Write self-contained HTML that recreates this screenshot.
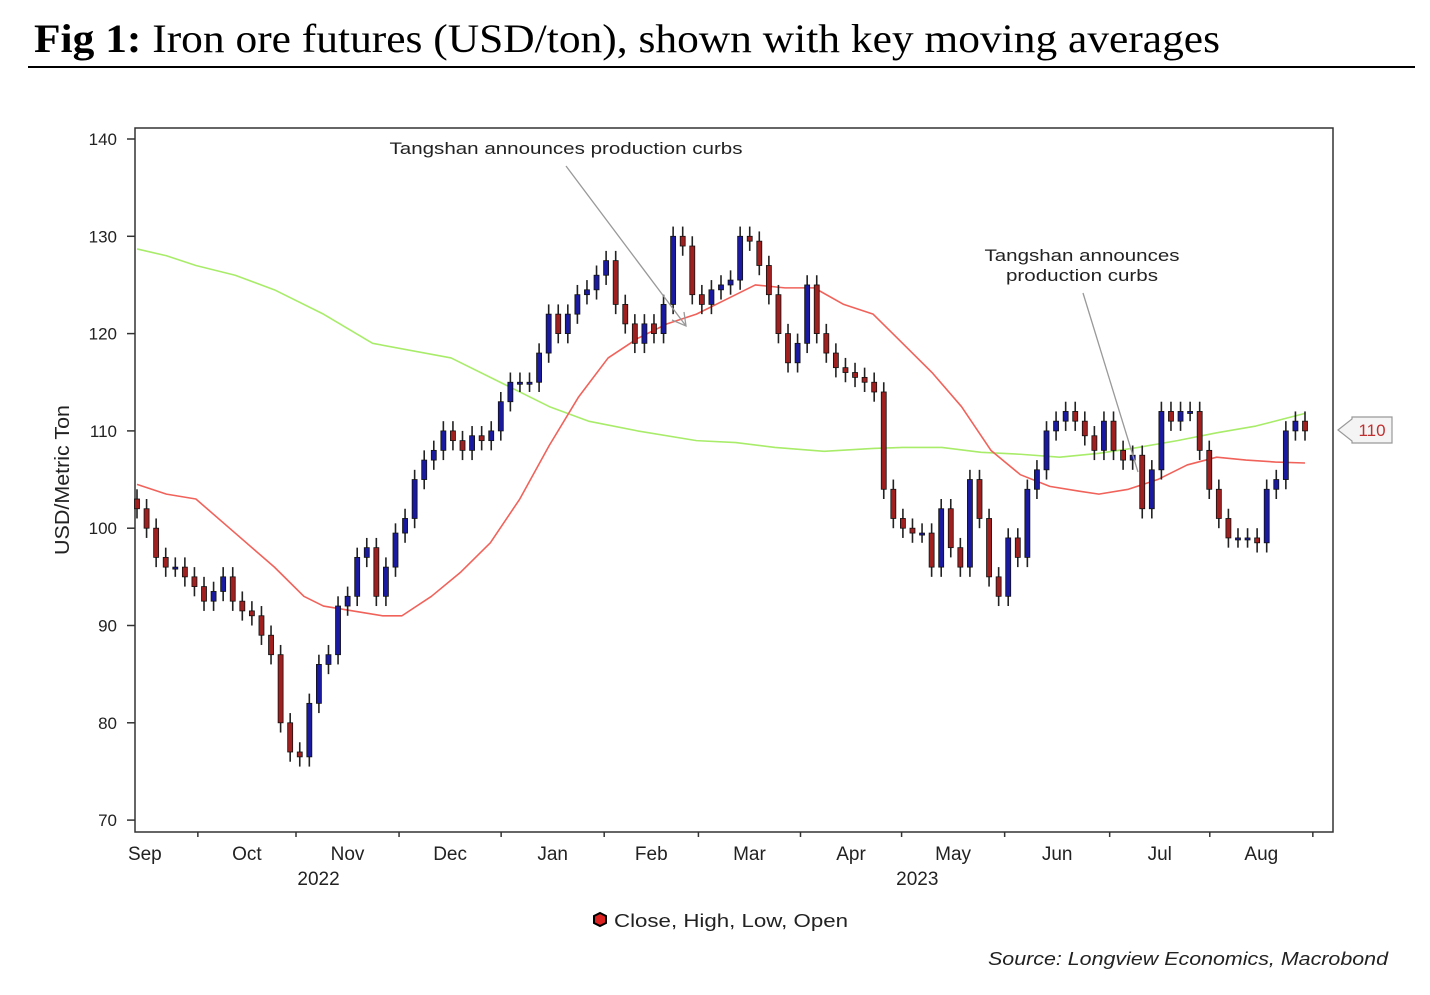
<!DOCTYPE html>
<html><head><meta charset="utf-8">
<style>
body{margin:0;background:#fff;width:1430px;height:990px;overflow:hidden;font-family:"Liberation Sans",sans-serif}
</style></head>
<body>
<svg id="c" width="1430" height="990" xmlns="http://www.w3.org/2000/svg">
<text x="34" y="52" font-family="Liberation Serif,serif" font-size="40" textLength="1186" lengthAdjust="spacingAndGlyphs"><tspan font-weight="bold">Fig 1:</tspan> Iron ore futures (USD/ton), shown with key moving averages</text>
<line x1="28" y1="67" x2="1415" y2="67" stroke="#000" stroke-width="2"/>
<rect x="135" y="128" width="1198" height="704" fill="none" stroke="#333" stroke-width="1.5"/>
<text transform="translate(69,480) rotate(-90)" text-anchor="middle" font-size="20" fill="#222" textLength="150" lengthAdjust="spacingAndGlyphs">USD/Metric Ton</text>
<g id="yax"></g>
<g id="xax"></g>
<g id="ma"></g>
<g id="cd"></g>
<text x="566" y="154" text-anchor="middle" font-size="17" fill="#222" textLength="353" lengthAdjust="spacingAndGlyphs">Tangshan announces production curbs</text>
<line x1="566" y1="166" x2="686" y2="326" stroke="#999" stroke-width="1.3"/>
<path d="M672 320 L686 326 L684 312" fill="none" stroke="#999" stroke-width="1.3"/>
<text text-anchor="middle" font-size="17" fill="#222"><tspan x="1082" y="261" textLength="195" lengthAdjust="spacingAndGlyphs">Tangshan announces</tspan><tspan x="1082" y="281" textLength="152" lengthAdjust="spacingAndGlyphs">production curbs</tspan></text>
<line x1="1083" y1="293" x2="1138" y2="472" stroke="#999" stroke-width="1.3"/>
<g>
<path d="M1338 430 L1352 419 L1352 417 L1392 417 L1392 443 L1352 443 L1352 441 Z" fill="#f4f4f4" stroke="#999" stroke-width="1.2"/>
<text x="1372" y="436" text-anchor="middle" font-size="17" fill="#c03030">110</text>
</g>
<g>
<path d="M594 916 L600 913 L606 916 L606 923 L600 926 L594 923 Z" fill="#d22" stroke="#000" stroke-width="2"/>
<text x="614" y="927" font-size="18" fill="#222" textLength="234" lengthAdjust="spacingAndGlyphs">Close, High, Low, Open</text>
</g>
<text x="1388" y="965" text-anchor="end" font-size="18" font-style="italic" fill="#222" textLength="400" lengthAdjust="spacingAndGlyphs">Source: Longview Economics, Macrobond</text>
</svg>
<script>
const closes=[102,100,97,96,96,95,94,92.5,93.5,95,92.5,91.5,91,89,87,80,77,76.5,82,86,87,92,93,97,98,93,96,99.5,101,105,107,108,110,109,108,109.5,109,110,113,115,115,115,118,122,120,122,124,124.5,126,127.5,123,121,119,121,120,123,130,129,124,123,124.5,125,125.5,130,129.5,127,124,120,117,119,125,120,118,116.5,116,115.5,115,114,104,101,100,99.5,99.5,96,102,98,96,105,101,95,93,99,97,104,106,110,111,112,111,109.5,108,111,108,107,107.5,102,106,112,111,112,112,108,104,101,99,99,99,98.5,104,105,110,111,110];
const firstOpen=103;
const redDays=[0,3,6,10,14,17,19,22,25,27,30,33,36,39,42,45,48,51,54,57,60,63,66,69,72,75,78,81,84,87,90,93,96,98,101,104,107,110,113,116,119];
const redVals=[104.5,103.5,103,99.5,96,93,92,91.5,91,91,93,95.5,98.5,103,108.5,113.5,117.5,119.5,121,122,123.5,125,124.7,124.7,123,122,119,116,112.5,108,105.5,104.3,103.8,103.5,104,105,106.5,107.3,107,106.8,106.7];
const greenDays=[0,3,6,10,14,19,24,32,37,42,46,51,57,61,65,70,75,78,82,86,90,94,98,102,106,110,114,119];
const greenVals=[128.7,128,127,126,124.5,122,119,117.5,115,112.5,111,110,109,108.8,108.3,107.9,108.2,108.3,108.3,107.8,107.6,107.3,107.7,108.3,109,109.8,110.5,111.8];
const yTicks=[70,80,90,100,110,120,130,140];
const monthStarts=[-4.6,6.2,16.2,26.7,37.1,47.6,57.2,67.6,77.9,88.4,99.1,109.3,119.8];
const monthLabels=["Sep","Oct","Nov","Dec","Jan","Feb","Mar","Apr","May","Jun","Jul","Aug"];
const yearLabels=[{t:"2022",d:18.5},{t:"2023",d:79.5}];
const NS="http://www.w3.org/2000/svg";
const y=v=>139+(140-v)*9.73;
const x=d=>137+d*9.815;
const xc=i=>137+i*(1168/(closes.length-1));
function mk(t,a,p){const e=document.createElementNS(NS,t);for(const k in a)e.setAttribute(k,a[k]);p.appendChild(e);return e;}
const yax=document.getElementById('yax');
yTicks.forEach(v=>{
  const l=mk('line',{x1:127,x2:135,y1:y(v),y2:y(v),stroke:'#333','stroke-width':1.5},yax);
  
  
  const t=mk('text',{x:117,y:y(v)+6,'text-anchor':'end','font-size':17,fill:'#222'},yax);
  t.textContent=v;
  
  
});
const xax=document.getElementById('xax');
monthStarts.forEach((d,i)=>{
  if(i>0){const l=mk('line',{x1:x(d),x2:x(d),y1:832,y2:837,stroke:'#333','stroke-width':1.5},xax);
  
  }
  if(i<monthLabels.length){
    const t=mk('text',{x:x((d+monthStarts[i+1])/2),y:860,'text-anchor':'middle','font-size':19,fill:'#222'},xax);
    t.textContent=monthLabels[i];
    
    
  }
});
yearLabels.forEach(o=>{
  const t=mk('text',{x:x(o.d),y:885,'text-anchor':'middle','font-size':19,fill:'#222'},xax);
  t.textContent=o.t;
  
  
});
const ma=document.getElementById('ma');
function line(days,vals,col,name){
  const p=mk('polyline',{points:days.map((d,i)=>x(d)+','+y(vals[i])).join(' '),fill:'none',stroke:col,'stroke-width':1.6,'stroke-linejoin':'round'},ma);
  
  
}
line(greenDays,greenVals,'#a8ec6a','ma-200-line');
line(redDays,redVals,'#f0625a','ma-50-line');
const cd=document.getElementById('cd');
closes.forEach((c,i)=>{
  const o=i?closes[i-1]:firstOpen;
  const hi=Math.max(o,c)+1,lo=Math.min(o,c)-1;
  const g=mk('g',{},cd);
  
  
  mk('line',{x1:xc(i),x2:xc(i),y1:y(hi),y2:y(lo),stroke:'#222','stroke-width':1.6},g);
  const top=y(Math.max(o,c)),h=Math.max(2,Math.abs(y(o)-y(c)));
  mk('rect',{x:xc(i)-2.5,y:top,width:5,height:h,fill:c>=o?'#1a1aa0':'#a02020',stroke:'#111','stroke-width':0.8},g);
});
</script>
</body></html>
